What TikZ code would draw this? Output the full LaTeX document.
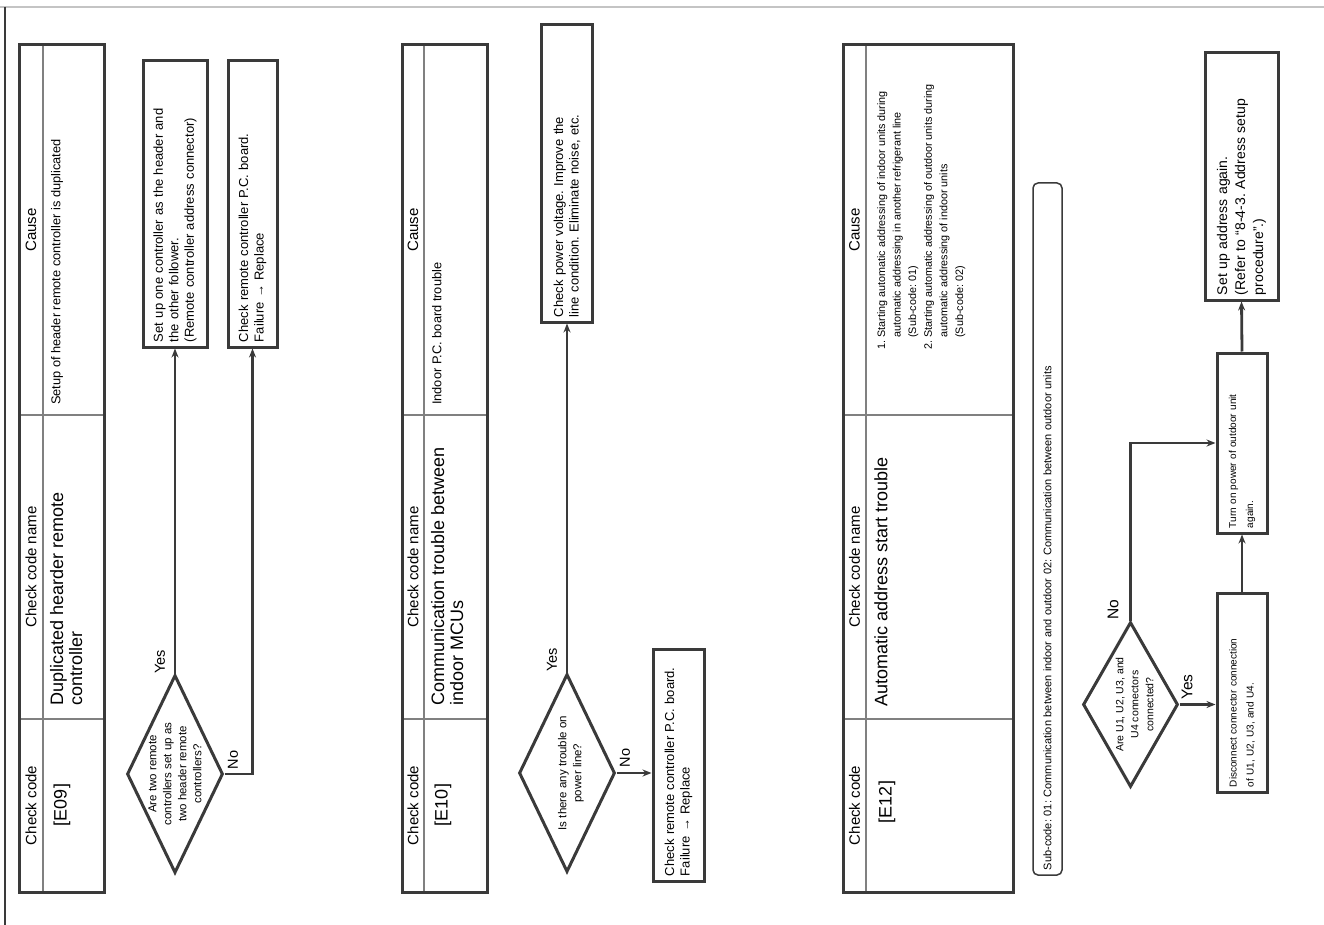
\documentclass[tikz,border=0pt]{standalone}
\usepackage{fontspec}
\setmainfont{Liberation Sans}
\usetikzlibrary{shapes.geometric,arrows.meta}
\definecolor{dk}{HTML}{3A3A3A}
\definecolor{md}{HTML}{808080}
\definecolor{lg}{HTML}{C4C4C4}
\newcommand{\fs}[2]{\fontsize{#1}{#2}\selectfont}
\frenchspacing
\tikzset{
  ln/.style={line width=2.8pt, draw=dk},
  arr/.style={ln, -{Stealth[length=9pt,width=7pt]}},
  fbox/.style={draw=dk, line width=3pt, rotate=90, inner xsep=5pt, inner ysep=2pt, align=left, text=black, font=\fs{13}{15.5}},
  dia/.style={diamond, draw=dk, line width=3pt, rotate=90, inner sep=0pt},
  dtext/.style={rotate=90, align=center, inner sep=0pt, font=\fs{11.5}{15}},
  lab/.style={rotate=90, inner sep=0pt, font=\fs{14.5}{16}},
  thead/.style={rotate=90, inner sep=0pt, font=\fs{15}{17}},
  tcode/.style={rotate=90, inner sep=0pt, font=\fs{18}{19}},
  tname/.style={rotate=90, inner sep=0pt, anchor=north west, align=left, font=\fs{18}{19}},
  tcause/.style={rotate=90, inner sep=0pt, anchor=north west, align=left, font=\fs{12.8}{15.6}},
  touter/.style={line width=3pt, draw=dk},
  tinner/.style={line width=1.5pt, draw=md},
}
\begin{document}
\begin{tikzpicture}[x=1pt,y=-1pt]
\useasboundingbox[fill=white] (0,0) rectangle (1324,925);
% page frame
\draw[lg, line width=1.5pt] (0,7) -- (1324,7);
\draw[dk, line width=1.5pt] (5,7) -- (5,925);

% ================= E09 =================
\draw[tinner] (43,45) -- (43,892) (19,719) -- (104,719) (19,415) -- (104,415);
\draw[touter] (19,45) rectangle (104,892);
\node[thead] (h1a) at (31,805.5) {Check code};
\node[thead] (h1b) at (31,567) {Check code name};
\node[thead] (h1c) at (31,230) {Cause};
\node[tcode] (c1) at (62,805) {[E09]};
\node[tname] (n1) at (50,706) {Duplicated hearder remote\\controller};
\node[tcause] (k1) at (51,405) {Setup of header remote controller is duplicated};

\node[dia, minimum width=198pt, minimum height=96pt] (d1) at (175,774) {};
\node[dtext] (t1) at (d1.center) {Are two remote\\controllers set up as\\two header remote\\controllers?};
\node[fbox, text width=276pt, minimum height=64pt] (b1) at (175,204)
  {Set up one controller as the header and\\the other follower.\\(Remote controller address connector)};
\node[fbox, text width=276pt, minimum height=49pt] (b2) at (252.5,204)
  {Check remote controller P.C. board.\\Failure \textrightarrow{} Replace};
\draw[arr] (d1.east) -- (b1.west);
\draw[arr] (d1.south) -| (b2.west);
\node[lab] (y1) at (160,662) {Yes};
\node[lab] (o1) at (233,760) {No};

% ================= E10 =================
\draw[tinner] (424,45) -- (424,892) (402,719) -- (487,719) (402,415) -- (487,415);
\draw[touter] (402,45) rectangle (487,892);
\node[thead] (h2a) at (413,805.5) {Check code};
\node[thead] (h2b) at (413,567) {Check code name};
\node[thead] (h2c) at (413,230) {Cause};
\node[tcode] (c2) at (443,805) {[E10]};
\node[tname] (n2) at (431,706) {Communication trouble between\\indoor MCUs};
\node[tcause] (k2) at (432,405) {Indoor P.C. board trouble};

\node[dia, minimum width=198pt, minimum height=96pt] (d2) at (567,773) {};
\node[dtext] (t2) at (571,773) {Is there any trouble on\\power line?};
\node[fbox, text width=287pt, minimum height=51pt] (b3) at (567,173.5)
  {Check power voltage. Improve the\\line condition. Eliminate noise, etc.};
\node[fbox, text width=222pt, minimum height=51pt] (b4) at (678.5,765)
  {Check remote controller P.C. board.\\Failure \textrightarrow{} Replace};
\draw[arr] (d2.east) -- (b3.west);
\draw[arr] (d2.south) -- (d2.south -| b4.north);
\node[lab] (y2) at (552,660) {Yes};
\node[lab] (o2) at (625,758) {No};

% ================= E12 =================
\draw[tinner] (866,45) -- (866,892) (843,719) -- (1013,719) (843,415) -- (1013,415);
\draw[touter] (843,45) rectangle (1013,892);
\node[thead] (h3a) at (854.5,805.5) {Check code};
\node[thead] (h3b) at (854.5,567) {Check code name};
\node[thead] (h3c) at (854.5,230) {Cause};
\node[tcode] (c3) at (887,802) {[E12]};
\node[tname] (n3) at (874,707) {Automatic address start trouble};
\node[tcause, font=\fs{10.8}{15.6}] (k3) at (877,350) {1. Starting automatic addressing of indoor units during\\
\phantom{1. }automatic addressing in another refrigerant line\\
\phantom{1. }(Sub-code: 01)\\
2. Starting automatic addressing of outdoor units during\\
\phantom{2. }automatic addressing of indoor units\\
\phantom{2. }(Sub-code: 02)};

\node[draw=dk, line width=1.5pt, rounded corners=5pt, rotate=90, minimum width=692pt,
      minimum height=29pt, text width=682pt, inner xsep=5pt, align=left, font=\fs{11}{13}] (sub) at (1047.5,529)
  {Sub-code: 01: Communication between indoor and outdoor 02: Communication between outdoor units};

\node[dia, minimum width=165pt, minimum height=95pt] (d3) at (1130.5,704.5) {};
\node[dtext, font=\fs{10.5}{15}] (t3) at (1134.5,704.5) {Are U1, U2, U3, and\\U4 connectors\\connected?};
\node[fbox, text width=189pt, minimum height=50pt, font=\fs{10}{17}] (b5) at (1242,692.5)
  {Disconnect connector connection\\of U1, U2, U3, and U4.};
\node[fbox, text width=170pt, minimum height=50pt, font=\fs{10}{17}] (b6) at (1242,443)
  {Turn on power of outdoor unit\\again.};
\node[fbox, text width=237pt, minimum height=73pt, font=\fs{14}{18}] (b7) at (1241.5,176.5)
  {Set up address again.\\(Refer to “8-4-3. Address setup\\procedure”.)};
\draw[arr] (d3.south) -- (d3.south -| b5.north);
\draw[arr] (d3.east) |- (b6.north);
\draw[arr] (b5.east) -- (b6.west);
\draw[arr] (b6.east) -- (b7.west);
\node[lab, font=\fs{15.5}{17}] (y3) at (1187,687) {Yes};
\node[lab, font=\fs{15.5}{17}] (o3) at (1113,610) {No};
\end{tikzpicture}
\end{document}
